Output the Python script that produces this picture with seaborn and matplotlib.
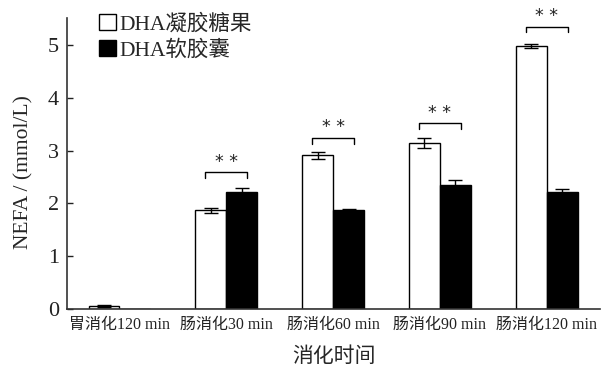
import numpy as np
import pandas as pd
import matplotlib
matplotlib.use("Agg")
import matplotlib.pyplot as plt
import seaborn as sns
from matplotlib.patches import Patch

# Digestion stages and the two DHA formulations
stages = ["胃消化120 min", "肠消化30 min", "肠消化60 min", "肠消化90 min", "肠消化120 min"]
series = ["DHA凝胶糖果", "DHA软胶囊"]

gummy_mean = [0.05, 1.87, 2.91, 3.14, 4.98]
gummy_err = [0.02, 0.05, 0.07, 0.10, 0.04]
capsule_mean = [0.0, 2.21, 1.88, 2.34, 2.21]
capsule_err = [0.0, 0.08, 0.02, 0.11, 0.06]

# Significance brackets (bracket height per stage, None where not marked)
sig_level = [None, 2.59, 3.24, 3.52, 5.35]
sig_text = "* *"

yticks = [0, 1, 2, 3, 4, 5]

sns.set_theme(style="ticks")
plt.rcParams["font.family"] = ["Liberation Serif", "Noto Sans CJK SC"]
plt.rcParams["axes.unicode_minus"] = False

df = pd.DataFrame({
    "stage": stages * 2,
    "group": [series[0]] * len(stages) + [series[1]] * len(stages),
    "value": gummy_mean + capsule_mean,
    "err": gummy_err + capsule_err,
})

fig = plt.figure(figsize=(6.05, 3.70), dpi=100)
ax = fig.add_axes([0.111, 0.165, 0.881, 0.786])

sns.barplot(data=df, x="stage", y="value", hue="group", order=stages,
            hue_order=series, palette=["white", "black"], width=0.58,
            edgecolor="black", linewidth=1.0, errorbar=None, legend=False, ax=ax)

# Error bars placed on the drawn bars
for k, grp in enumerate(series):
    sub = df[df["group"] == grp].set_index("stage").loc[stages]
    cont = ax.containers[k]
    for rect, (_, row) in zip(cont, sub.iterrows()):
        if row["value"] <= 0:
            continue
        xc = rect.get_x() + rect.get_width() / 2
        ax.errorbar(xc, row["value"], yerr=row["err"], fmt="none",
                    ecolor="black", elinewidth=1.0, capsize=5, capthick=1.0, zorder=5)

# Significance brackets between the paired bars
for i, lvl in enumerate(sig_level):
    if lvl is None:
        continue
    x0, x1 = i - 0.195, i + 0.195
    ax.plot([x0, x0, x1, x1], [lvl - 0.11, lvl, lvl, lvl - 0.11],
            color="black", lw=1.0, zorder=5)
    ax.text(i, lvl + 0.03, sig_text, ha="center", va="bottom", fontsize=12.5,
            family=["DejaVu Sans"], color="#222")

ax.set_xlim(-0.49, 4.5)
ax.set_ylim(0, 5.51)
ax.set_yticks(yticks)
ax.set_yticklabels([str(t) for t in yticks], fontsize=16)
ax.tick_params(axis="y", direction="in", length=4, width=1, pad=6, colors="#222")
ax.tick_params(axis="x", length=0, pad=6, labelsize=11.5)
for lab in ax.get_xticklabels():
    lab.set_color("#222")

sns.despine(ax=ax)
for s in ["left", "bottom"]:
    ax.spines[s].set_color("#333")
    ax.spines[s].set_linewidth(1.2)

ax.set_xlabel("消化时间", fontsize=15, labelpad=10)
ax.set_ylabel("NEFA / (mmol/L)", fontsize=15.5)
ax.yaxis.set_label_coords(-0.064, 0.47)

handles = [Patch(facecolor="white", edgecolor="black", linewidth=1.0),
           Patch(facecolor="black", edgecolor="black", linewidth=1.0)]
ax.legend(handles, series, loc="upper left", bbox_to_anchor=(0.043, 1.045),
          frameon=False, fontsize=15.5, handlelength=0.8, handleheight=0.8,
          handletextpad=0.15, labelspacing=0.25, borderaxespad=0)

fig.savefig("out.png", dpi=100)
